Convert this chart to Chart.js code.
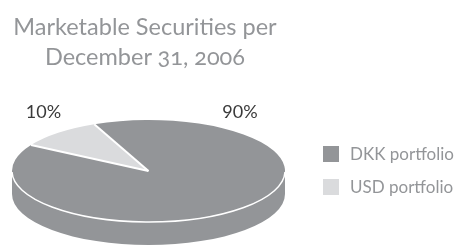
<!DOCTYPE html>
<html>
<head>
<meta charset="utf-8">
<script src="https://cdn.jsdelivr.net/npm/chart.js"></script>
<style>
  html, body { margin: 0; padding: 0; background: #fff; }
  #wrap {
    position: relative;
    width: 458px;
    height: 246px;
    overflow: hidden;
    font-family: Lato, "Open Sans", sans-serif;
  }
  #pie { position: absolute; left: 0; top: 0; font-feature-settings: normal; }
  #title {
    position: absolute;
    left: 0;
    top: 11px;
    width: 290px;
    text-align: center;
    color: #939598;
    font-size: 23.5px;
    line-height: 30px;
    font-feature-settings: "onum";
  }
  #legend { position: absolute; left: 323px; top: 146px; }
  #legend .item { position: absolute; left: 0; height: 20px; width: 140px; }
  #legend .box { position: absolute; left: 0; top: 0; width: 16px; height: 16px; }
  #legend .text {
    position: absolute;
    left: 27px;
    top: -1px;
    font-size: 17px;
    line-height: 18px;
    color: #939598;
    white-space: nowrap;
  }
</style>
</head>
<body>
<div id="wrap">
  <canvas id="pie" width="458" height="246"></canvas>
  <div id="title">Marketable Securities per<br>December 31, 2006</div>
  <div id="legend"></div>
</div>
<script>
  // Data
  const categories = ["DKK portfolio", "USD portfolio"];
  const shares = [90, 10];
  const sliceColors = ["#939598", "#dadbdd"];

  // Legend (HTML, built from the data)
  const legendEl = document.getElementById("legend");
  categories.forEach((name, i) => {
    const item = document.createElement("div");
    item.className = "item";
    item.style.top = i * 33 + "px";
    item.innerHTML =
      '<span class="box" style="background:' + sliceColors[i] + '"></span>' +
      '<span class="text">' + name + "</span>";
    legendEl.appendChild(item);
  });

  // Where the flattened pie goes on the page
  const disc = { cx: 148.5, cy: 171, rx: 136.5, ry: 51, depth: 23 };

  // Squash the library's pie into a tilted disc and add its rim
  const tiltPlugin = {
    id: "tilt",
    beforeDatasetsDraw(chart) {
      const ctx = chart.ctx;
      const arcs = chart.getDatasetMeta(0).data;
      const { x, y, outerRadius } = arcs[0];

      // side of the disc, only the part that faces us
      ctx.save();
      arcs.forEach((arc, i) => {
        for (let k = -1; k <= 2; k++) {
          const lo = Math.max(arc.startAngle, 2 * Math.PI * k);
          const hi = Math.min(arc.endAngle, 2 * Math.PI * k + Math.PI);
          if (hi <= lo) continue;
          ctx.beginPath();
          ctx.ellipse(disc.cx, disc.cy, disc.rx, disc.ry, 0, lo, hi);
          ctx.ellipse(disc.cx, disc.cy + disc.depth, disc.rx, disc.ry, 0, hi, lo, true);
          ctx.closePath();
          ctx.fillStyle = sliceColors[i];
          ctx.fill();
        }
      });
      ctx.restore();

      ctx.save();
      ctx.translate(disc.cx, disc.cy);
      ctx.scale(disc.rx / outerRadius, disc.ry / outerRadius);
      ctx.translate(-x, -y);
    },
    afterDatasetsDraw(chart) {
      const ctx = chart.ctx;
      ctx.restore();
      const arcs = chart.getDatasetMeta(0).data;

      // white rim along the front edge
      ctx.save();
      ctx.strokeStyle = "#ffffff";
      ctx.lineWidth = 1.5;
      ctx.beginPath();
      ctx.ellipse(disc.cx, disc.cy, disc.rx, disc.ry, 0, 0.02, Math.PI - 0.02);
      ctx.stroke();

      // white separators between slices
      ctx.lineWidth = 2;
      arcs.forEach((arc) => {
        const a = arc.startAngle;
        ctx.beginPath();
        ctx.moveTo(disc.cx, disc.cy);
        ctx.lineTo(disc.cx + disc.rx * Math.cos(a), disc.cy + disc.ry * Math.sin(a));
        ctx.stroke();
      });

      // percentage labels above the disc
      ctx.font = "18px Lato, 'Open Sans', sans-serif";
      ctx.fillStyle = "#3a3a3a";
      ctx.textAlign = "center";
      ctx.textBaseline = "alphabetic";
      const labelX = [disc.cx + 91.5, disc.cx - 105];
      arcs.forEach((arc, i) => {
        ctx.fillText(shares[i] + "%", labelX[i], disc.cy - disc.ry - 2.5);
      });
      ctx.restore();
    },
  };

  new Chart(document.getElementById("pie").getContext("2d"), {
    type: "pie",
    data: {
      labels: categories,
      datasets: [
        {
          data: shares,
          backgroundColor: sliceColors,
          borderWidth: 0,
          clip: false,
        },
      ],
    },
    options: {
      responsive: false,
      animation: false,
      events: [],
      rotation: -23.4,
      layout: { padding: 10 },
      plugins: {
        legend: { display: false },
        tooltip: { enabled: false },
        title: { display: false },
      },
    },
    plugins: [tiltPlugin],
  });
</script>
</body>
</html>
